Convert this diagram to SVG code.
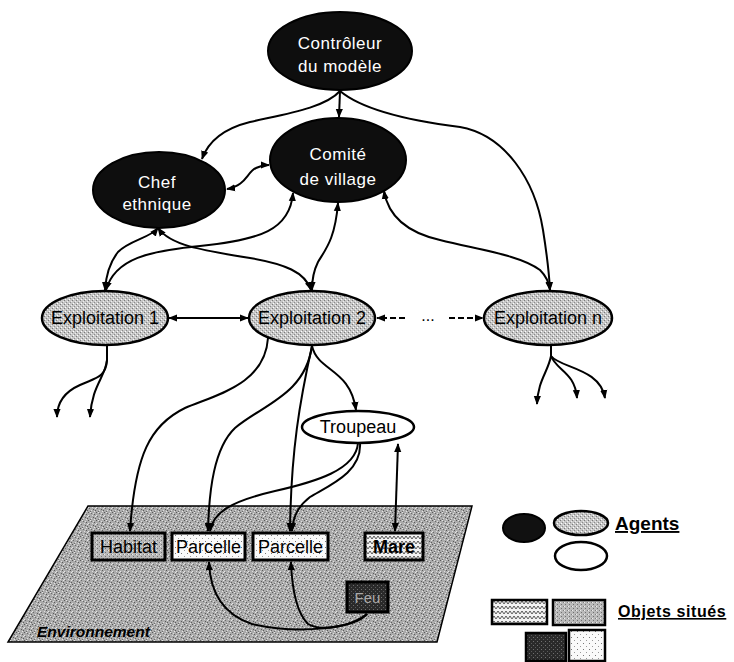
<svg xmlns="http://www.w3.org/2000/svg" width="734" height="662" viewBox="0 0 734 662">
<defs>
<style>
.dk{fill:#0e0e0e;stroke:#000;stroke-width:2}
.gr{fill:url(#pGray);stroke:#000;stroke-width:2.5}
.wh{fill:#fff;stroke:#000;stroke-width:2.5}
.wt{font-family:"Liberation Sans",Arial,sans-serif;font-size:17px;fill:#fff;text-anchor:middle;letter-spacing:0.5px}
.bt{font-family:"Liberation Sans",Arial,sans-serif;font-size:18px;fill:#000;text-anchor:middle}
.c{fill:none;stroke:#000;stroke-width:2;marker-end:url(#ah)}
.b{marker-start:url(#ah)}
.d{stroke-dasharray:6 3}
.box{stroke:#000;stroke-width:3}
.lg{font-family:"Liberation Sans",Arial,sans-serif;font-weight:bold;fill:#000;text-decoration:underline}
</style>
<marker id="ah" viewBox="0 0 10 8" refX="9" refY="4" markerWidth="9" markerHeight="8" markerUnits="userSpaceOnUse" orient="auto-start-reverse">
<path d="M0,0 L10,4 L0,8 z" fill="#000"/>
</marker>
<pattern id="pGray" width="4" height="4" patternUnits="userSpaceOnUse">
<rect width="4" height="4" fill="#c6c6c6"/><rect x="0" y="0" width="1" height="1" fill="#7a7a7a"/><rect x="2" y="2" width="1" height="1" fill="#8a8a8a"/><rect x="1" y="3" width="1" height="1" fill="#fff"/><rect x="3" y="1" width="1" height="1" fill="#eee"/>
</pattern>
<pattern id="pHab" width="4" height="4" patternUnits="userSpaceOnUse">
<rect width="4" height="4" fill="#bababa"/><rect x="1" y="0" width="1" height="1" fill="#707070"/><rect x="3" y="2" width="1" height="1" fill="#808080"/><rect x="0" y="2" width="1" height="1" fill="#eee"/>
</pattern>
<pattern id="pEnv" width="8" height="8" patternUnits="userSpaceOnUse">
<rect width="8" height="8" fill="#ababab"/>
<rect x="0" y="0" width="1" height="1" fill="#5a5a5a"/><rect x="3" y="1" width="1" height="1" fill="#6a6a6a"/><rect x="6" y="2" width="1" height="1" fill="#5a5a5a"/><rect x="1" y="4" width="1" height="1" fill="#6a6a6a"/><rect x="5" y="5" width="1" height="1" fill="#5a5a5a"/><rect x="2" y="7" width="1" height="1" fill="#6a6a6a"/><rect x="7" y="6" width="1" height="1" fill="#5a5a5a"/>
<rect x="2" y="0" width="1" height="1" fill="#e6e6e6"/><rect x="5" y="1" width="1" height="1" fill="#ddd"/><rect x="0" y="3" width="1" height="1" fill="#e6e6e6"/><rect x="4" y="3" width="1" height="1" fill="#ddd"/><rect x="7" y="4" width="1" height="1" fill="#e6e6e6"/><rect x="3" y="6" width="1" height="1" fill="#ddd"/><rect x="6" y="7" width="1" height="1" fill="#e6e6e6"/>
</pattern>
<pattern id="pDot" width="6" height="6" patternUnits="userSpaceOnUse">
<rect width="6" height="6" fill="#fafafa"/><rect x="1" y="1" width="1" height="1" fill="#777"/><rect x="4" y="4" width="1" height="1" fill="#999"/>
</pattern>
<pattern id="pZig" width="8" height="5" patternUnits="userSpaceOnUse">
<rect width="8" height="5" fill="#f2f2f2"/><polyline points="0,4 2,1 4,4 6,1 8,4" fill="none" stroke="#333" stroke-width="0.8"/>
</pattern>
<pattern id="pDark" width="4" height="4" patternUnits="userSpaceOnUse">
<rect width="4" height="4" fill="#2a2a2a"/><rect x="1" y="1" width="1" height="1" fill="#707070"/><rect x="3" y="3" width="1" height="1" fill="#5a5a5a"/>
</pattern>
</defs>
<rect width="734" height="662" fill="#fff"/>

<g id="environnement">
<polygon points="88,506 472,506 437,642 8,642" fill="url(#pEnv)" stroke="#000" stroke-width="1.5"/>
<text x="37" y="637" font-family="Liberation Sans, Arial, sans-serif" font-size="15.5" font-weight="bold" font-style="italic" fill="#000">Environnement</text>
</g>

<g id="controleur">
<ellipse class="dk" cx="340" cy="51" rx="72" ry="39"/>
<text class="wt" x="340" y="49">Contrôleur</text>
<text class="wt" x="340" y="72">du modèle</text>
</g>
<g id="comite">
<ellipse class="dk" cx="338" cy="160" rx="68" ry="42"/>
<text class="wt" x="338" y="160">Comité</text>
<text class="wt" x="338" y="185">de village</text>
</g>
<g id="chef">
<ellipse class="dk" cx="159" cy="190" rx="66" ry="38"/>
<text class="wt" x="157" y="188">Chef</text>
<text class="wt" x="157" y="210">ethnique</text>
</g>
<g id="exploitation1">
<ellipse class="gr" cx="105" cy="318" rx="63" ry="27"/>
<text class="bt" x="105" y="324">Exploitation 1</text>
</g>
<g id="exploitation2">
<ellipse class="gr" cx="312" cy="318" rx="63" ry="27"/>
<text class="bt" x="312" y="324">Exploitation 2</text>
</g>
<g id="exploitationn">
<ellipse class="gr" cx="548" cy="318" rx="64" ry="27"/>
<text class="bt" x="548" y="324">Exploitation n</text>
</g>
<g id="troupeau">
<ellipse class="wh" cx="358" cy="427" rx="56" ry="16"/>
<text class="bt" x="358" y="433">Troupeau</text>
</g>
<g id="habitat">
<rect class="box" x="92" y="533" width="73" height="27" fill="url(#pHab)"/>
<text class="bt" x="128.5" y="553">Habitat</text>
</g>
<g id="parcelle1">
<rect class="box" x="172" y="533" width="73" height="27" fill="url(#pDot)"/>
<text class="bt" x="208.5" y="553">Parcelle</text>
</g>
<g id="parcelle2">
<rect class="box" x="253" y="533" width="75" height="27" fill="url(#pDot)"/>
<text class="bt" x="290.5" y="553">Parcelle</text>
</g>
<g id="mare">
<rect class="box" x="365" y="533" width="58" height="27" fill="url(#pZig)"/>
<text class="bt" x="394" y="553" font-weight="bold">Mare</text>
</g>
<g id="feu">
<rect class="box" x="347" y="582" width="41" height="30" fill="url(#pDark)"/>
<text x="367.5" y="603" font-family="Liberation Sans, Arial, sans-serif" font-size="15" fill="#aaa" text-anchor="middle">Feu</text>
</g>

<g id="connectors">
<path class="c" d="M340,91 L339,117"/>
<path class="c" d="M340,91 C325,108 285,114 250,122 C222,129 208,142 202,159"/>
<path class="c" d="M340,91 C365,112 420,122 460,127 C505,135 535,180 543,230 C547,255 549,272 550,290"/>
<path class="c b" d="M227,189 C246,186 247,172 256,168 C260,166 264,165 269,165"/>
<path class="c b" d="M384,191 C388,215 405,232 440,240 C480,250 520,255 540,270 C546,276 549,282 550,290"/>
<path class="c b" d="M158,228 C150,238 130,240 118,252 C110,262 106,275 105,290"/>
<path class="c b" d="M158,228 C170,245 200,250 250,258 C285,264 305,272 311,290"/>
<path class="c b" d="M293,193 C290,230 260,240 200,246 C150,251 115,258 106,290"/>
<path class="c b" d="M338,203 C335,240 325,250 318,262 C314,270 312,280 312,290"/>
<path class="c b" d="M169,318 L248,318"/>
<path class="c d" d="M405,318 L377,318"/>
<text x="428" y="321" font-family="Liberation Sans, Arial, sans-serif" font-size="16" text-anchor="middle" fill="#000">...</text>
<path class="c d" d="M449,318 L483,318"/>
<path class="c" d="M107,345 L107,360 C106,378 95,378 80,385 C62,393 57,405 57,417"/>
<path class="c" d="M107,360 C105,378 92,385 90,417"/>
<path class="c" d="M551,345 L551,356 C548,372 538,380 537,404"/>
<path class="c" d="M551,356 C556,370 575,372 577,398"/>
<path class="c" d="M551,356 C560,368 600,368 605,398"/>
<path class="c" d="M268,338 C265,385 215,395 185,408 C150,425 135,455 130,531"/>
<path class="c" d="M312,346 C305,395 262,405 235,428 C214,448 209,490 208,531"/>
<path class="c" d="M312,346 C300,400 291,450 290,531"/>
<path class="c" d="M312,346 C318,372 350,368 356,410"/>
<path class="c" d="M358,443 C356,470 315,482 275,491 C232,501 213,512 210,531"/>
<path class="c" d="M360,443 C362,472 330,485 310,497 C297,507 293,518 292,531"/>
<path class="c b" d="M398,444 L395,531"/>
<path class="c" d="M367,614 C355,628 300,635 252,624 C222,614 210,592 209,562"/>
<path class="c" d="M367,614 C352,626 322,632 308,624 C296,612 292,590 291,562"/>
</g>

<g id="legende">
<ellipse cx="524" cy="528" rx="21" ry="14" fill="#111" stroke="#000" stroke-width="2"/>
<ellipse cx="581" cy="523" rx="27" ry="12" fill="url(#pGray)" stroke="#000" stroke-width="2.5"/>
<ellipse cx="581" cy="556" rx="26" ry="14" fill="#fff" stroke="#000" stroke-width="2.5"/>
<text class="lg" x="615" y="530" font-size="19">Agents</text>
<rect x="492" y="600" width="55" height="24" fill="url(#pZig)" stroke="#000" stroke-width="2.5"/>
<rect x="553" y="600" width="52" height="25" fill="url(#pHab)" stroke="#000" stroke-width="2.5"/>
<rect x="526" y="633" width="40" height="28" fill="url(#pDark)" stroke="#000" stroke-width="2.5"/>
<rect x="569" y="630" width="36" height="31" fill="url(#pDot)" stroke="#000" stroke-width="2.5"/>
<text class="lg" x="618" y="617" font-size="16" letter-spacing="0.6">Objets situés</text>
</g>
</svg>
